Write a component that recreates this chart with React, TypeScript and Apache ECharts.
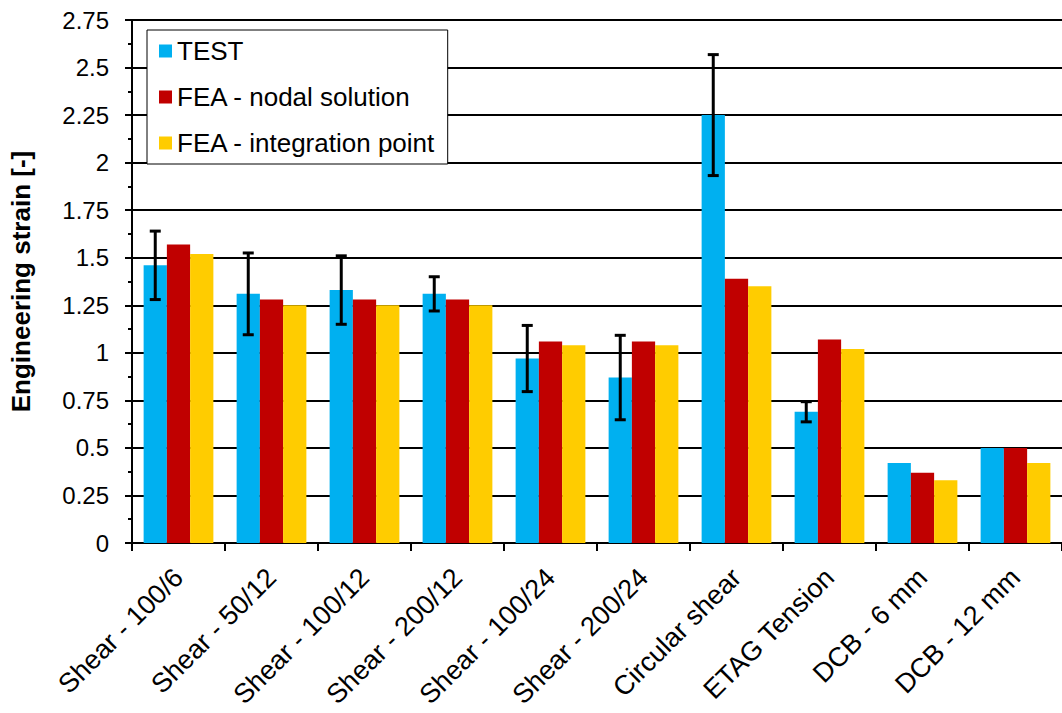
import React, { useEffect, useRef } from "react";
import * as echarts from "echarts";

const categories = [
  "Shear - 100/6",
  "Shear - 50/12",
  "Shear - 100/12",
  "Shear - 200/12",
  "Shear - 100/24",
  "Shear - 200/24",
  "Circular shear",
  "ETAG Tension",
  "DCB - 6 mm",
  "DCB - 12 mm",
];
const testValues = [1.46, 1.31, 1.33, 1.31, 0.97, 0.87, 2.25, 0.69, 0.42, 0.5];
const nodalValues = [1.57, 1.28, 1.28, 1.28, 1.06, 1.06, 1.39, 1.07, 0.37, 0.5];
const integrationValues = [1.52, 1.25, 1.25, 1.25, 1.04, 1.04, 1.35, 1.02, 0.33, 0.42];
const testErrors: (number | null)[] = [0.18, 0.215, 0.18, 0.09, 0.174, 0.222, 0.318, 0.053, null, null];
const seriesNames = ["TEST", "FEA - nodal solution", "FEA - integration point"];
const colors = ["#00B0F0", "#C00000", "#FFCC00"];

const FONT = "'Liberation Sans', Arial, sans-serif";

export default function App() {
  const ref = useRef<HTMLDivElement>(null);
  useEffect(() => {
    if (!ref.current) return;
    const chart = echarts.init(ref.current, undefined, { renderer: "svg" });
    const errData = testErrors
      .map((e, i) => (e == null ? null : [i, testValues[i] - e, testValues[i] + e]))
      .filter((d) => d !== null);
    chart.setOption({
      animation: false,
      backgroundColor: "#ffffff",
      textStyle: { fontFamily: FONT },
      grid: { left: 131, top: 20, width: 937, height: 523, containLabel: false },
      legend: {
        data: seriesNames,
        orient: "vertical",
        left: 147,
        top: 30,
        itemWidth: 13,
        itemHeight: 13,
        itemGap: 20,
        padding: [8, 12, 8, 12],
        backgroundColor: "#ffffff",
        borderColor: "#000000",
        borderWidth: 1,
        icon: "rect",
        textStyle: { fontFamily: FONT, fontSize: 26, color: "#000" },
      },
      xAxis: {
        type: "category",
        data: categories,
        axisLine: { show: true, lineStyle: { color: "#000", width: 2 } },
        axisTick: { show: true, alignWithLabel: false, length: 8, lineStyle: { color: "#000", width: 2 } },
        axisLabel: {
          interval: 0,
          rotate: 45,
          margin: 30,
          fontSize: 27,
          color: "#000",
          fontFamily: FONT,
        },
        splitLine: { show: false },
      },
      yAxis: {
        type: "value",
        min: 0,
        max: 2.75,
        interval: 0.25,
        name: "Engineering strain [-]",
        nameLocation: "middle",
        nameGap: 98,
        nameTextStyle: { fontSize: 26, fontWeight: "bold", color: "#000", fontFamily: FONT },
        axisLine: { show: true, lineStyle: { color: "#000", width: 2 } },
        axisTick: { show: true, length: 7, lineStyle: { color: "#000", width: 2 } },
        minorTick: { show: true, splitNumber: 2, length: 4, lineStyle: { color: "#000", width: 2 } },
        axisLabel: { fontSize: 24, color: "#000", margin: 23, fontFamily: FONT },
        splitLine: { show: true, lineStyle: { color: "#000", width: 2 } },
      },
      series: [
        {
          name: seriesNames[0],
          type: "bar",
          data: testValues,
          itemStyle: { color: colors[0] },
          barGap: "0%",
          barCategoryGap: "25%",
        },
        {
          name: seriesNames[1],
          type: "bar",
          data: nodalValues,
          itemStyle: { color: colors[1] },
          barGap: "0%",
          barCategoryGap: "25%",
        },
        {
          name: seriesNames[2],
          type: "bar",
          data: integrationValues,
          itemStyle: { color: colors[2] },
          barGap: "0%",
          barCategoryGap: "25%",
        },
        {
          name: "TEST error",
          type: "custom",
          data: errData,
          z: 10,
          renderItem: (params: any, api: any) => {
            const idx = api.value(0);
            const lo = api.coord([idx, api.value(1)]);
            const hi = api.coord([idx, api.value(2)]);
            const w = api.size([1, 0])[0];
            const x = lo[0] - w * 0.25;
            const cap = 5.5;
            const style = { stroke: "#000", lineWidth: 3, fill: null };
            return {
              type: "group",
              children: [
                { type: "line", shape: { x1: x, y1: hi[1], x2: x, y2: lo[1] }, style },
                { type: "line", shape: { x1: x - cap, y1: hi[1], x2: x + cap, y2: hi[1] }, style },
                { type: "line", shape: { x1: x - cap, y1: lo[1], x2: x + cap, y2: lo[1] }, style },
              ],
            };
          },
        },
      ],
    });
    return () => chart.dispose();
  }, []);
  return (
    <div
      ref={ref}
      style={{ position: "fixed", left: 0, top: 0, width: 1062, height: 713, background: "#fff" }}
    />
  );
}
